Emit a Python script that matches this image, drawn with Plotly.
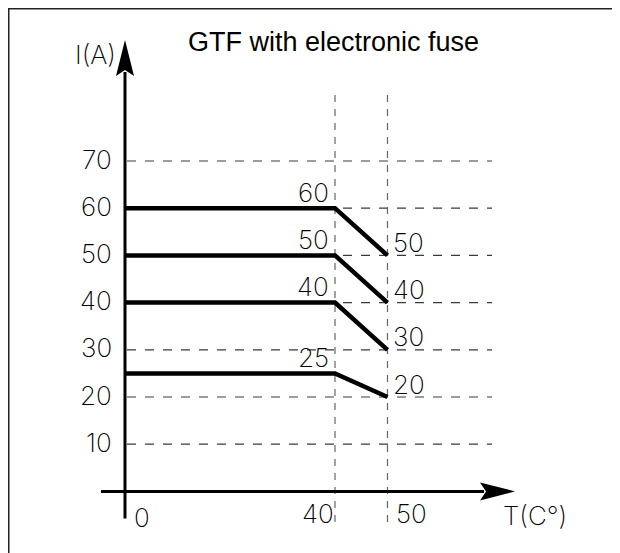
import plotly.graph_objects as go

# ---- data ----
temps = [0, 40, 50]                      # T (°C): start, derating start, end
i_nominal = [60, 50, 40, 25]             # current up to 40 °C
i_derated = [50, 40, 30, 20]             # current at 50 °C
grid_levels = [10, 20, 30, 40, 50, 60, 70]
y_tick_labels = ["10", "20", "30", "40", "50", "60", "70"]
x_tick_vals = [0, 40, 50]
x_tick_labels = ["0", "40", "50"]
title_text = "GTF with electronic fuse"
y_axis_title = "I(A)"
x_axis_title = "T(C°)"

# ---- geometry (pixel mapping of the drawing, page px incl. 8px body margin) ----
W, H = 620, 553
OFF = 8.0
X0PX, SX = 125.0, 5.25      # px of T=0, px per °C
Y0PX, SY = 491.4, 4.72      # px of I=0, px per A
def xd(px):  # page pixel -> data x
    return (px - X0PX) / SX
def yd(py):  # page pixel -> data y
    return (Y0PX - py) / SY

thin = dict(family="Inter", size=26, color="#000000", weight=200)

fig = go.Figure()

# horizontal dashed grid
for lv in grid_levels:
    fig.add_trace(go.Scatter(x=[xd(127), xd(492)], y=[lv, lv], mode="lines",
                             line=dict(color="#3a3a3a", width=1.2, dash="9px,9px"),
                             hoverinfo="skip", showlegend=False))
# vertical dashed lines at 40 and 50
for tv in x_tick_vals[1:]:
    fig.add_trace(go.Scatter(x=[tv, tv], y=[yd(522), yd(90)], mode="lines",
                             line=dict(color="#666666", width=1.2, dash="7px,7px"),
                             hoverinfo="skip", showlegend=False))

# derating curves
for a, b in zip(i_nominal, i_derated):
    fig.add_trace(go.Scatter(x=temps, y=[a, a, b], mode="lines",
                             line=dict(color="black", width=4.5),
                             hoverinfo="skip", showlegend=False))

# axes lines
fig.add_trace(go.Scatter(x=[0, 0], y=[yd(518.5), yd(72)], mode="lines",
                         line=dict(color="black", width=3), hoverinfo="skip", showlegend=False))
fig.add_trace(go.Scatter(x=[xd(101), xd(484)], y=[0, 0], mode="lines",
                         line=dict(color="black", width=3), hoverinfo="skip", showlegend=False))

shapes = []
# y arrow head
hw = 9 / SX
shapes.append(dict(type="path", xref="x", yref="y", fillcolor="black", line=dict(width=0),
                   path=f"M 0 {yd(40)} L {-hw} {yd(76)} L 0 {yd(70)} L {hw} {yd(76)} Z"))
# x arrow head
hh = 9 / SY
shapes.append(dict(type="path", xref="x", yref="y", fillcolor="black", line=dict(width=0),
                   path=f"M {xd(515)} 0 L {xd(480)} {hh} L {xd(486)} 0 L {xd(480)} {-hh} Z"))
# frame (left + top) at the figure edge
shapes.append(dict(type="line", xref="paper", yref="paper", x0=0.75 / W, x1=0.75 / W,
                   y0=0, y1=1, line=dict(color="#222222", width=1.5)))
shapes.append(dict(type="line", xref="paper", yref="paper", x0=0, x1=1,
                   y0=1 - 0.75 / H, y1=1 - 0.75 / H, line=dict(color="#222222", width=1.5)))

ann = []
# title
ann.append(dict(text=title_text, xref="paper", yref="paper", x=(333 - OFF) / W, y=1 - (42 - OFF) / H,
                xanchor="center", yanchor="middle", showarrow=False,
                font=dict(family="Liberation Sans", size=27, color="black")))
# y tick labels
for lv, lab in zip(grid_levels, y_tick_labels):
    ann.append(dict(text=lab, x=0, y=lv, xref="x", yref="y", xanchor="right", yanchor="middle",
                    xshift=-11, yshift=2, showarrow=False, font=thin))
# x tick labels
ann.append(dict(text=x_tick_labels[0], x=x_tick_vals[0], y=0, xanchor="left", yanchor="middle",
                xshift=7, yshift=-26, showarrow=False, font=thin))
ann.append(dict(text=x_tick_labels[1], x=x_tick_vals[1], y=0, xanchor="right", yanchor="middle",
                xshift=1, yshift=-22, showarrow=False, font=thin))
ann.append(dict(text=x_tick_labels[2], x=x_tick_vals[2], y=0, xanchor="left", yanchor="middle",
                xshift=6, yshift=-22, showarrow=False, font=thin))
# axis titles
ann.append(dict(text=y_axis_title, x=0, y=yd(54), xanchor="right", yanchor="middle",
                xshift=-7, showarrow=False, font=thin))
ann.append(dict(text=x_axis_title, x=xd(501), y=yd(515), xanchor="left", yanchor="middle",
                showarrow=False, font=thin))
# curve value labels
for a, b in zip(i_nominal, i_derated):
    ann.append(dict(text=str(a), x=temps[1], y=a, xanchor="right", yanchor="middle",
                    xshift=-4, yshift=16, showarrow=False, font=thin))
    ann.append(dict(text=str(b), x=temps[2], y=b, xanchor="left", yanchor="middle",
                    xshift=3, yshift=13, showarrow=False, font=thin))

fig.update_layout(
    width=W, height=H, margin=dict(l=0, r=0, t=0, b=0),
    paper_bgcolor="white", plot_bgcolor="white",
    xaxis=dict(range=[xd(OFF), xd(W + OFF)], visible=False, fixedrange=True),
    yaxis=dict(range=[yd(H + OFF), yd(OFF)], visible=False, fixedrange=True),
    shapes=shapes, annotations=ann, showlegend=False,
)

fig.write_html("out.html")
